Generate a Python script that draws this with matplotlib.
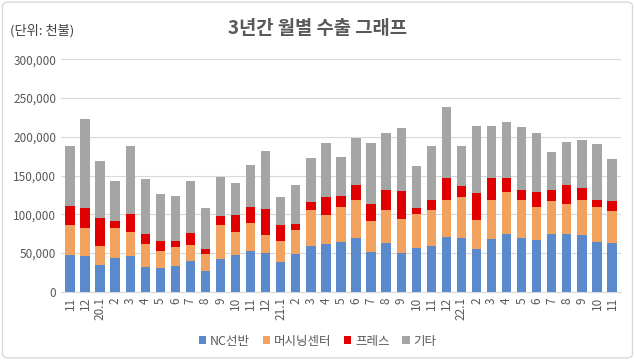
import numpy as np
import matplotlib.pyplot as plt
from matplotlib.patches import FancyBboxPatch

plt.rcParams['font.family'] = ['Noto Sans CJK KR', 'DejaVu Sans']

# 월 라벨
months = ['11', '12', '20.1', '2', '3', '4', '5', '6', '7', '8', '9', '10', '11', '12',
          '21.1', '2', '3', '4', '5', '6', '7', '8', '9', '10', '11', '12',
          '22.1', '2', '3', '4', '5', '6', '7', '8', '9', '10', '11']

# 단위: 천불
nc = [46.7, 45.4, 35, 42.8, 45.4, 32.4, 31.1, 33.7, 38.9, 26, 41.5, 46.7, 51.9, 49.3,
      37.6, 48, 58.4, 61, 63.6, 68.8, 50.6, 62.3, 49.3, 55.8, 58.4, 70,
      68.8, 54.5, 67.5, 74, 68.8, 66.2, 74, 74, 72.7, 63.6, 62.3]
machining = [38.9, 36.3, 23.4, 38.9, 31.2, 28.6, 20.8, 23.8, 20.8, 22, 44.1, 30.3, 36.8, 23.4,
             27.7, 31.6, 46.6, 37.6, 45.4, 49.2, 40.2, 42.7, 44.1, 44.1, 46.6, 48,
             53.2, 37.5, 50.5, 54.5, 49.2, 42.8, 42.8, 38.9, 45.3, 45.4, 41.5]
press = [25.1, 26, 36.6, 9.1, 23.7, 13.4, 13.4, 7.8, 16, 6.9, 12.1, 22, 20.3, 33.7,
         20.7, 7.8, 10.5, 23.8, 14.3, 20, 22.5, 26, 36.3, 7.8, 13, 28.6,
         14.7, 35, 28.6, 18.1, 13, 19.5, 14.2, 25.1, 15.6, 9, 13]
etc = [77.3, 115.3, 73.7, 51.9, 87.7, 70.9, 60.6, 57.7, 67, 52.8, 50.3, 41, 54.5, 75.2,
       36, 50.1, 57.1, 69.6, 50.6, 60.5, 78.7, 74, 81.8, 54.3, 70, 92.1,
       51.3, 87, 67.4, 72.4, 81.8, 76.5, 49, 55.3, 62.4, 72.7, 54.5]

series = [('NC선반', nc, '#5A8ACB'),
          ('머시닝센터', machining, '#F0A25E'),
          ('프레스', press, '#E00000'),
          ('기타', etc, '#A5A5A5')]

fig = plt.figure(figsize=(6.35, 3.6), dpi=100)
ax = fig.add_axes([0.096, 0.19, 0.882, 0.645])

x = np.arange(len(months))
bottom = np.zeros(len(months))
for name, vals, col in series:
    v = np.array(vals) * 1000
    ax.bar(x, v, 0.62, bottom=bottom, color=col, label=name, zorder=3)
    bottom += v

ax.set_ylim(0, 300000)
ax.set_xlim(-0.6, len(months) - 0.4)
ax.set_yticks(range(0, 300001, 50000))
ax.set_yticklabels([f'{t:,}' for t in range(0, 300001, 50000)])
ax.set_xticks(x)
ax.set_xticklabels(months, rotation=90)
ax.tick_params(length=0, colors='#595959', labelsize=8.5)
ax.tick_params(axis='x', pad=4)
ax.grid(axis='y', color='#D9D9D9', lw=0.8, zorder=0)
for s in ['top', 'right', 'left']:
    ax.spines[s].set_visible(False)
ax.spines['bottom'].set_color('#D9D9D9')

fig.text(0.5, 0.92, '3년간 월별 수출 그래프', ha='center', va='center',
         fontsize=13.5, fontweight='bold', color='#595959')
fig.text(0.016, 0.915, '(단위: 천불)', ha='left', va='center', fontsize=9.5, color='#404040')

fig.legend(loc='center', bbox_to_anchor=(0.5, 0.052), ncol=4, frameon=False,
           fontsize=9, handlelength=0.6, handleheight=0.6, handletextpad=0.3,
           columnspacing=1.0, labelcolor='#595959')

fig.patches.append(FancyBboxPatch((0.004, 0.006), 0.992, 0.988, boxstyle='round,pad=0,rounding_size=0.01',
                                  transform=fig.transFigure, fill=False, ec='#D9D9D9', lw=1))

fig.savefig('out.png', dpi=100)
